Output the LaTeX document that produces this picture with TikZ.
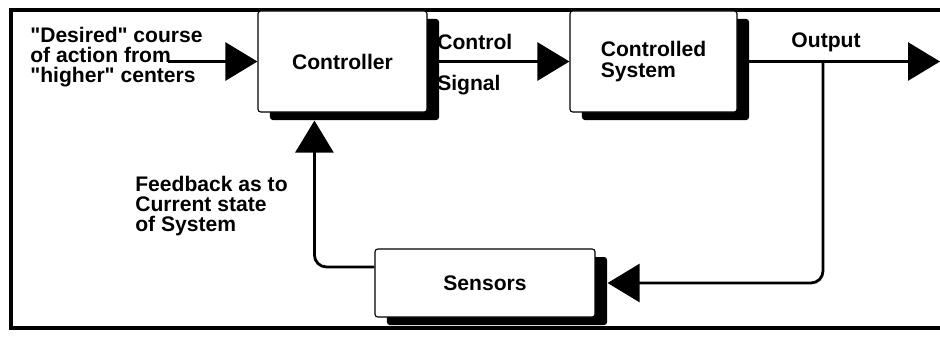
\documentclass[tikz,border=0pt]{standalone}
\usepackage{fontspec}
\setmainfont{Liberation Sans}
\usetikzlibrary{arrows.meta,shadows,positioning}
\newcommand{\diafont}{\fontsize{15}{14.5}\selectfont\bfseries}
\tikzstyle{block}=[draw,fill=white,line width=0.8pt,rounded corners=2pt,
  font=\diafont,drop shadow={shadow xshift=0.3cm,shadow yshift=-0.2cm,
  fill=black,opacity=1}]
\tikzstyle{flow}=[line width=2pt,-{Triangle[length=0.8cm,width=0.95cm]}]
\tikzstyle{lbl}=[font=\diafont,align=left,inner sep=0pt]

\begin{document}
\begin{tikzpicture}[x=0.025cm,y=-0.025cm]
  \useasboundingbox (0,0) rectangle (940,337);

  % frame
  \draw[line width=3pt] (960,10) -- (11,10) -- (11,328) -- (960,328);

  \node[block, minimum width=4.225cm, minimum height=2.525cm] (ctrl)
    at (342.5,61.5) {Controller};
  \node[block, minimum width=4.175cm, minimum height=2.525cm, align=left] (csys)
    at (653.5,61.5) {Controlled\\System};
  \node[block, minimum width=5.5cm, minimum height=1.7cm] (sens)
    at (485,283) {Sensors};

  \node[lbl, anchor=west] (goal) at (30,57)
    {\textquotedbl Desired\textquotedbl\ course\\of action from\\
     \textquotedbl higher\textquotedbl\ centers};
  \node[lbl, anchor=west] (ctl) at (437,42) {Control};
  \node[lbl, anchor=west] (sig) at (437,85) {Signal};
  \node[lbl] (outp) at (826,42) {Output};
  \node[lbl, anchor=west] (fbk) at (135,206)
    {Feedback as to\\Current state\\of System};

  \coordinate (src) at (168,61.5);
  \coordinate (out) at (940,61.5);
  \coordinate (tap) at (823,61.5);

  \draw[flow] (src) -- (ctrl.west);
  \draw[flow] (ctrl.east) -- (csys.west);
  \draw[flow] (csys.east) -- (out);
  \draw[flow, rounded corners=0.3cm] (tap) |- ([xshift=0.3cm]sens.east);
  \draw[flow, rounded corners=0.3cm] ([yshift=0.4cm]sens.west)
    -| ([xshift=1.425cm,yshift=-0.2cm]ctrl.south west);
\end{tikzpicture}
\end{document}
